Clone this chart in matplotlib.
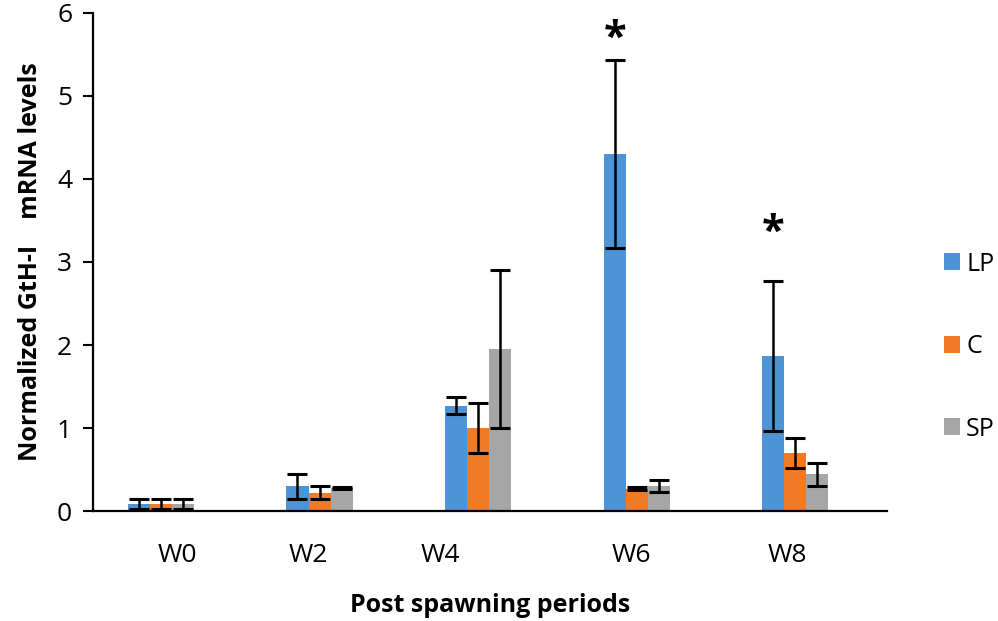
import numpy as np
import matplotlib.pyplot as plt
from matplotlib.patches import Patch

plt.rcParams['font.family'] = ['Open Sans', 'DejaVu Sans']

periods = ['W0', 'W2', 'W4', 'W6', 'W8']
groups = ['LP', 'C', 'SP']
lp = [0.08, 0.30, 1.27, 4.30, 1.87]
lp_err = [0.06, 0.15, 0.10, 1.13, 0.90]
c = [0.08, 0.22, 1.00, 0.27, 0.70]
c_err = [0.06, 0.08, 0.30, 0.02, 0.18]
sp = [0.08, 0.28, 1.95, 0.30, 0.44]
sp_err = [0.06, 0.01, 0.95, 0.07, 0.14]
# significance stars (period index, height)
stars = [(3, 5.68), (4, 3.34)]

colors = ['#4d94d6', '#f07b26', '#a6a6a6']
label_shift = [0.10, -0.07, -0.24, -0.03, -0.05]

fig = plt.figure(figsize=(9.98, 6.21), dpi=100)
ax = fig.add_axes([0.0932, 0.1771, 0.7956, 0.802])

x = np.arange(len(periods))
w = 0.139
for i, (vals, errs) in enumerate([(lp, lp_err), (c, c_err), (sp, sp_err)]):
    pos = x + (i - 1) * w
    ax.bar(pos, vals, w, color=colors[i], zorder=2)
    ax.errorbar(pos, vals, yerr=errs, fmt='none', ecolor='black',
                elinewidth=1.8, capsize=7, capthick=2.2, zorder=3)

for idx, h in stars:
    ax.text(x[idx] - w, h, '*', ha='center', va='center',
            fontsize=30, fontweight='bold')

ax.set_xlim(-0.429, 4.58)
ax.set_ylim(0, 6)
ax.set_yticks(range(7))
ax.tick_params(axis='y', labelsize=19, length=7, width=1.5, direction='out', pad=8)
ax.set_xticks(x + np.array(label_shift))
ax.set_xticklabels(periods, fontsize=19)
ax.tick_params(axis='x', length=0, pad=23)
for s in ['top', 'right']:
    ax.spines[s].set_visible(False)
for s in ['left', 'bottom']:
    ax.spines[s].set_linewidth(1.6)

ax.set_xlabel('Post spawning periods', fontsize=18, fontweight='bold', labelpad=18)
ax.set_ylabel('Normalized GtH-I    mRNA levels', fontsize=18, fontweight='bold', labelpad=10)

handles = [Patch(facecolor=col) for col in colors]
fig.legend(handles, groups, loc='upper left', bbox_to_anchor=(0.933, 0.615),
           frameon=False, fontsize=18, handlelength=0.65, handleheight=0.65,
           handletextpad=0.25, labelspacing=2.3, borderpad=0)

fig.savefig('out.png', dpi=100)
